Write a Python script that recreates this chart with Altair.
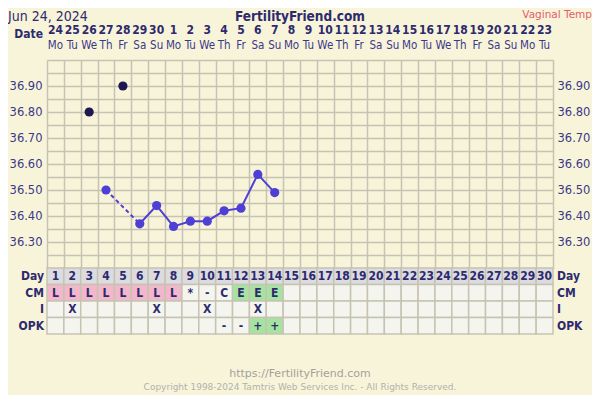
import altair as alt
import pandas as pd

# ---------------- data ----------------
days = list(range(1, 31))
date_labels = ["24", "25", "26", "27", "28", "29", "30", "1", "2", "3", "4", "5", "6", "7", "8",
               "9", "10", "11", "12", "13", "14", "15", "16", "17", "18", "19", "20", "21", "22", "23"]
weekday_labels = ["Mo", "Tu", "We", "Th", "Fr", "Sa", "Su"] * 4 + ["Mo", "Tu"]

temp_days = [3, 4, 5, 6, 7, 8, 9, 10, 11, 12, 13, 14]
temp_values = [36.80, 36.50, 36.90, 36.37, 36.44, 36.36, 36.38, 36.38, 36.42, 36.43, 36.56, 36.49]
temp_status = ["discarded", "used", "discarded", "used", "used", "used", "used", "used",
               "used", "used", "used", "used"]
dashed_days = [4, 6]
solid_days = [6, 7, 8, 9, 10, 11, 12, 13, 14]

cm_codes = ["L", "L", "L", "L", "L", "L", "L", "L", "*", "-", "C", "E", "E", "E"] + [""] * 16
intercourse = ["", "X", "", "", "", "", "X", "", "", "X", "", "", "X", ""] + [""] * 16
opk_codes = ["", "", "", "", "", "", "", "", "", "", "-", "-", "+", "+"] + [""] * 16

table_rows = ["Day", "CM", "I", "OPK"]
temp_ticks = [36.20, 36.25, 36.30, 36.35, 36.40, 36.45, 36.50, 36.55, 36.60,
              36.65, 36.70, 36.75, 36.80, 36.85, 36.90, 36.95, 37.00]

# ---------------- styles ----------------
BG = "#F8F4DA"
GRID = "#C6C3B3"
NAVY = "#2D2A6E"
LABEL = "#3B3889"
PT = "#4E3FD5"
PT_OFF = "#1D1852"
FONT = "DejaVu Sans"
CFONT = "DejaVu Sans Condensed, DejaVu Sans"

# ---------------- tables ----------------
temp_df = pd.DataFrame({"day": temp_days, "temp": temp_values, "status": temp_status})
temp_df["dashed"] = temp_df["day"].isin(dashed_days)
temp_df["solid"] = temp_df["day"].isin(solid_days)

recs = []
for i, d in enumerate(days):
    recs.append({"day": d, "row": "Day", "text": str(d), "kind": "head"})
    c = cm_codes[i]
    recs.append({"day": d, "row": "CM", "text": c,
                 "kind": "pink" if c == "L" else ("green" if c == "E" else "plain")})
    recs.append({"day": d, "row": "I", "text": intercourse[i], "kind": "plain"})
    o = opk_codes[i]
    recs.append({"day": d, "row": "OPK", "text": o, "kind": "green" if o == "+" else "plain"})
table_df = pd.DataFrame(recs)
table_df["x_lo"] = table_df["day"] - 0.5
table_df["x_hi"] = table_df["day"] + 0.5

header_df = pd.DataFrame({"day": days, "date": date_labels, "wd": weekday_labels})
rows_df = pd.DataFrame({"row": table_rows})

# ---------------- scales / axes ----------------
x_scale = alt.Scale(domain=[0.5, 30.5], nice=False, zero=False)
col_edges = [d - 0.5 for d in days] + [30.5]
x_axis = alt.Axis(values=col_edges, grid=True, gridColor=GRID, gridWidth=1.5, labels=False,
                  ticks=False, domain=False, title=None)
temp_scale = alt.Scale(domain=[36.2, 37.0], nice=False, zero=False)
label_expr = ("(datum.value > 36.29 && datum.value < 36.91 && "
              "abs(datum.value*10 - round(datum.value*10)) < 0.001) ? format(datum.value, '.2f') : ''")
left_axis = alt.Axis(values=temp_ticks, grid=True, gridColor=GRID, gridWidth=1.5, ticks=False,
                     domain=False, labelExpr=label_expr, labelColor=LABEL, labelFontSize=11.5,
                     labelPadding=5, labelOverlap=False, labelFlush=False, title=None, orient="left")
right_axis = alt.Axis(values=temp_ticks, grid=False, ticks=False, domain=False,
                      labelExpr=label_expr, labelColor=LABEL, labelFontSize=11.5, labelPadding=4,
                      labelOverlap=False, labelFlush=False, title=None, orient="right")


def X(field=None, datum=None):
    if datum is not None:
        return alt.X(datum=datum, scale=x_scale, axis=x_axis)
    return alt.X(field, scale=x_scale, axis=x_axis)


# ---------------- temperature layers ----------------
tbase = alt.Chart(temp_df)
dashed_line = tbase.transform_filter("datum.dashed").mark_line(
    color=PT, strokeWidth=2, strokeDash=[4, 3]).encode(
    x=X("day:Q"),
    y=alt.Y("temp:Q", scale=temp_scale, axis=left_axis))
solid_line = tbase.transform_filter("datum.solid").mark_line(color=PT, strokeWidth=2).encode(
    x=X("day:Q"),
    y=alt.Y("temp:Q", scale=temp_scale, axis=left_axis))
lines = alt.layer(dashed_line, solid_line)

points = tbase.mark_circle(size=85, opacity=1).encode(
    x=X("day:Q"),
    y=alt.Y("temp:Q", scale=temp_scale, axis=right_axis),
    color=alt.Color("status:N", scale=alt.Scale(domain=["used", "discarded"], range=[PT, PT_OFF]),
                    legend=None))

# ---------------- data table ----------------
row_scale = alt.Scale(domain=table_rows, range=[208, 274], paddingInner=0, paddingOuter=0)
cells = alt.Chart(table_df).mark_rect(stroke=GRID, strokeWidth=1.5).encode(
    x=X("x_lo:Q"),
    x2="x_hi:Q",
    y=alt.Y("row:N", scale=row_scale, axis=None),
    fill=alt.Fill("kind:N", scale=alt.Scale(domain=["head", "plain", "pink", "green"],
                                            range=["#DCDCE0", "#F5F5EF", "#F2B7CA", "#A7E3A0"]),
                  legend=None))
cell_text = alt.Chart(table_df).mark_text(font=CFONT, fontSize=12, fontWeight="bold",
                                           color=NAVY, baseline="middle").encode(
    x=X("day:Q"),
    y=alt.Y("row:N", scale=row_scale, axis=None),
    text="text:N")
row_left = alt.Chart(rows_df).mark_text(font=CFONT, fontSize=12, fontWeight="bold", color=NAVY,
                                         align="right", baseline="middle", dx=-3).encode(
    x=X(datum=0.5),
    y=alt.Y("row:N", scale=row_scale, axis=None),
    text="row:N")
row_right = alt.Chart(rows_df).mark_text(font=CFONT, fontSize=12, fontWeight="bold", color=NAVY,
                                          align="left", baseline="middle", dx=4).encode(
    x=X(datum=30.5),
    y=alt.Y("row:N", scale=row_scale, axis=None),
    text="row:N")
table = alt.layer(cells, cell_text, row_left, row_right)

# ---------------- date header ----------------
hdr_scale = alt.Scale(domain=["date", "wd"], range=[-38, -6], paddingInner=0, paddingOuter=0)
date_text = alt.Chart(header_df).transform_calculate(r="'date'").mark_text(
    font=CFONT, fontSize=12, fontWeight="bold", color=NAVY, baseline="middle").encode(
    x=X("day:Q"),
    y=alt.Y("r:N", scale=hdr_scale, axis=None),
    text="date:N")
wd_text = alt.Chart(header_df).transform_calculate(r="'wd'").mark_text(
    font=CFONT, fontSize=11.5, color=LABEL, baseline="middle").encode(
    x=X("day:Q"),
    y=alt.Y("r:N", scale=hdr_scale, axis=None),
    text="wd:N")
date_label = alt.Chart(pd.DataFrame({"t": ["Date"], "r": ["date"]})).mark_text(
    font=CFONT, fontSize=12, fontWeight="bold", color=NAVY, align="right", baseline="middle",
    dx=-4, dy=4).encode(
    x=X(datum=0.5),
    y=alt.Y("r:N", scale=hdr_scale, axis=None),
    text="t:N")
header = alt.layer(date_text, wd_text, date_label)

# ---------------- annotations ----------------
def note(txt, x, y, **kw):
    return alt.Chart(pd.DataFrame({"t": [txt]})).mark_text(**kw).encode(
        text="t:N", x=alt.value(x), y=alt.value(y))

top_left = note("Jun 24, 2024", -39, -50, font=CFONT, baseline="top", align="left",
                fontSize=14, color=NAVY)
top_mid = note("FertilityFriend.com", 253, -50, font=CFONT, baseline="top", align="center",
               fontSize=13.5, fontWeight="bold", color=NAVY)
top_right = note("Vaginal Temp", 545, -50, font=FONT, baseline="top", align="right",
                 fontSize=10.5, color="#E0606E")
foot_url = note("https://FertilityFriend.com", 253, 314, font=FONT, baseline="middle",
                align="center", fontSize=11, color="#A2A29A")
foot_copy = note("Copyright 1998-2024 Tamtris Web Services Inc. - All Rights Reserved.", 253, 327,
                 font=FONT, baseline="middle", align="center", fontSize=9, color="#B2B2AA")
notes = alt.layer(top_left, top_mid, top_right, foot_url, foot_copy)

chart = alt.layer(lines, points, table, header, notes).resolve_scale(
    y="independent", fill="independent", color="independent"
).properties(
    width=506, height=208, background=BG,
    autosize=alt.AutoSizeParams(type="none"),
    padding={"left": 39, "top": 52, "right": 39, "bottom": 127},
).configure_view(strokeWidth=0).configure(font=FONT)

chart.save("out.html", embed_options={"renderer": "svg", "actions": False})
